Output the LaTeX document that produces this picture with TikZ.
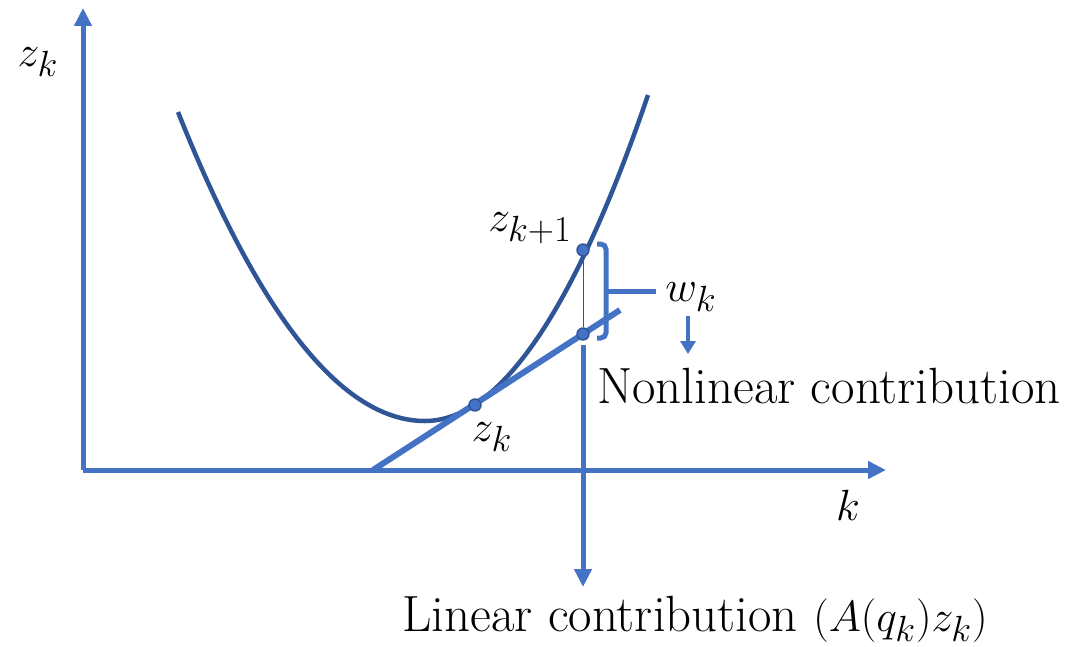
\documentclass[tikz,border=0pt]{standalone}
\usepackage{amsmath}
\usepackage{tikz}
\usetikzlibrary{arrows.meta, calc, positioning}

\definecolor{axisblue}{HTML}{4472C4}
\definecolor{curveblue}{HTML}{2F5597}

\begin{document}
\begin{tikzpicture}[
    x=0.02cm, y=-0.02cm,
    axis/.style={draw=axisblue, line width=0.1cm, -{Triangle[length=0.36cm, width=0.34cm]}},
    curve/.style={draw=curveblue, line width=0.09cm},
    tangent/.style={draw=axisblue, line width=0.12cm},
    dot/.style={circle, fill=axisblue, draw=curveblue, line width=0.8pt, inner sep=0pt, minimum size=0.24cm},
    lbl/.style={font=\fontsize{29}{34}\selectfont, inner sep=1pt}
]
\useasboundingbox (0,0) rectangle (1084,646);

% axes
\coordinate (origin) at (83,470);
\coordinate (ytop) at (83,8);
\coordinate (xend) at (886,470);
\draw[axis] (origin) -- (ytop);
\draw[axis] (origin) -- (xend);
\node[lbl] (ylabel) at (38,62) {$z_k$};
\node[lbl] (xlabel) at (848,505) {$k$};

% nonlinear curve
\coordinate (cleft) at (178,112);
\coordinate (cmin) at (425,421);
\coordinate (cright) at (648,95);
\draw[curve] (cleft) .. controls (260,318) and (343,421) .. (cmin)
    .. controls (499,421) and (574,312) .. (cright);

% linearisation
\coordinate (tstart) at (373,470);
\coordinate (tend) at (620,310);
\draw[tangent] (tstart) -- (tend);

% points
\node[dot] (pk) at (475,405) {};
\node[dot] (pnext) at (583,250) {};
\node[dot] (plin) at (583,334) {};
\draw[curveblue, thin] (pnext) -- (plin);
\node[lbl] (zk) at (492,437) {$z_k$};
\node[lbl] (znext) at (530,228) {$z_{k+1}$};

% linear contribution
\coordinate (lintop) at (583,345);
\coordinate (linbot) at (583,587);
\draw[axis] (lintop) -- (linbot);
\node[lbl] (lintext) at (695,619) {Linear contribution $(A(q_k)z_k)$};

% bracket and nonlinear contribution
\draw[axisblue, line width=0.1cm, rounded corners=3pt]
    (597,244) -- (606,244) -- (606,338) -- (597,338);
\coordinate (brmid) at (606,291);
\coordinate (brtip) at (656,291);
\draw[axisblue, line width=0.1cm] (brmid) -- (brtip);
\node[lbl] (wk) at (691,297) {$w_k$};
\coordinate (warrtop) at (688,316);
\coordinate (warrbot) at (688,354);
\draw[axisblue, line width=0.09cm, -{Triangle[length=0.26cm, width=0.3cm]}] (warrtop) -- (warrbot);
\node[lbl] (nltext) at (829,386) {Nonlinear contribution};
\end{tikzpicture}
\end{document}
